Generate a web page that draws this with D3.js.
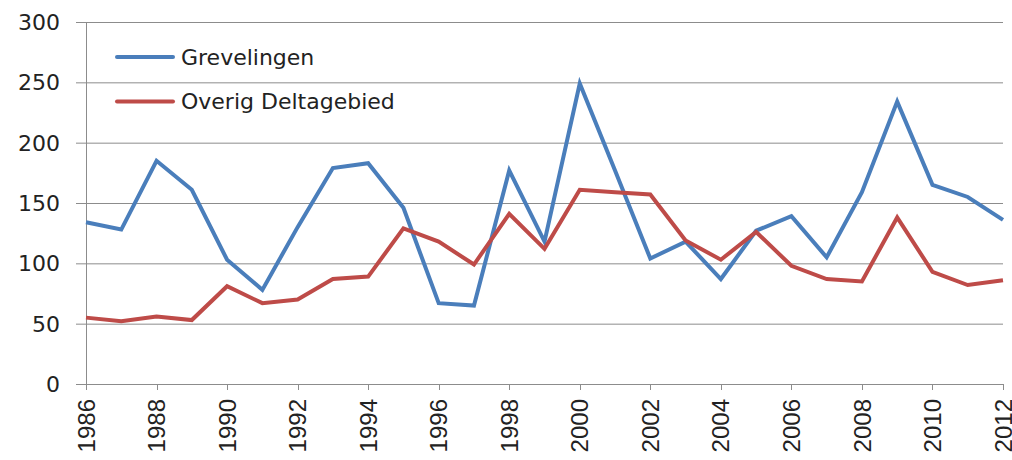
<!DOCTYPE html>
<html><head><meta charset="utf-8">
<script src="https://cdn.jsdelivr.net/npm/d3@7"></script>
<style>body{margin:0;background:#fff}svg{display:block}</style>
</head><body>
<script>
const years = [1986,1987,1988,1989,1990,1991,1992,1993,1994,1995,1996,1997,1998,1999,2000,2001,2002,2003,2004,2005,2006,2007,2008,2009,2010,2011,2012];
const grevelingen = [134,128,185,161,103,78,130,179,183,146,67,65,177,118,249,177,104,118,87,127,139,105,159,234,165,155,136];
const overigDelta = [55,52,56,53,81,67,70,87,89,129,118,99,141,112,161,159,157,119,103,126,98,87,85,138,93,82,86];
const yTicks = [0,50,100,150,200,250,300];
const xTicks = [1986,1988,1990,1992,1994,1996,1998,2000,2002,2004,2006,2008,2010,2012];
const seriesNames = ["Grevelingen","Overig Deltagebied"];
const colors = ["#4A7EBB","#BE4B48"];

const W=1012,H=460, L=86, R=1003, T=22, B=384;
const svg=d3.select("body").append("svg").attr("width",W).attr("height",H);
const x=d3.scaleLinear().domain([1986,2012]).range([L,R]);
const y=d3.scaleLinear().domain([0,300]).range([B,T]);
const grid="#8c8c8c";

// gridlines + y ticks
svg.append("g").selectAll("line").data(yTicks).join("line")
  .attr("x1",L-10).attr("x2",R).attr("y1",d=>y(d)+0.5).attr("y2",d=>y(d)+0.5)
  .attr("stroke",grid).attr("stroke-width",1);
svg.append("g").selectAll("text").data(yTicks).join("text")
  .attr("x",60).attr("y",d=>y(d)).attr("dy","0.36em").attr("text-anchor","end")
  .attr("font-family","DejaVu Sans").attr("font-size",22).attr("fill","#222")
  .text(d=>d);
// y axis line
svg.append("line").attr("x1",L+0.5).attr("x2",L+0.5).attr("y1",T).attr("y2",B)
  .attr("stroke",grid).attr("stroke-width",1);
// x ticks
svg.append("g").selectAll("line").data(xTicks).join("line")
  .attr("x1",d=>Math.round(x(d))+0.5).attr("x2",d=>Math.round(x(d))+0.5)
  .attr("y1",B).attr("y2",B+6).attr("stroke",grid);
svg.append("g").selectAll("text").data(xTicks).join("text")
  .attr("transform",d=>`translate(${x(d)},${B+15}) rotate(-90)`)
  .attr("dy","0.36em").attr("text-anchor","end")
  .attr("font-family","Liberation Sans").attr("font-size",24).attr("fill","#222")
  .text(d=>d);

const line=d3.line().x((d,i)=>x(years[i])).y(d=>y(d));
[grevelingen,overigDelta].forEach((s,k)=>{
  svg.append("path").datum(s).attr("d",line).attr("fill","none")
    .attr("stroke",colors[k]).attr("stroke-width",4).attr("stroke-linejoin","miter");
});

// legend
const lg=svg.append("g");
seriesNames.forEach((n,i)=>{
  const yy=57+i*44.5;
  lg.append("line").attr("x1",117).attr("x2",173).attr("y1",yy).attr("y2",yy)
    .attr("stroke",colors[i]).attr("stroke-width",4).attr("stroke-linecap","round");
  lg.append("text").attr("x",181).attr("y",yy).attr("dy","0.36em")
    .attr("font-family","DejaVu Sans").attr("font-size",22).attr("fill","#222").text(n);
});
</script>
</body></html>
